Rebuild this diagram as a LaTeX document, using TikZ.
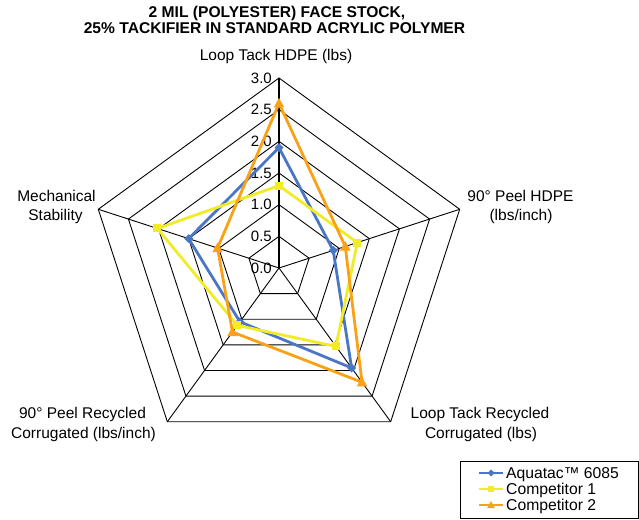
\documentclass[tikz,border=0pt]{standalone}
\usepackage{fontspec}
\setmainfont{Liberation Sans}
\definecolor{sblue}{RGB}{74,118,198}
\definecolor{syellow}{RGB}{242,236,40}
\definecolor{sorange}{RGB}{250,162,22}
\tikzset{
  gridline/.style={black, line width=0.9pt},
  axisline/.style={black, line width=1.8pt},
  series/.style={line width=2.8pt, line join=round},
  lbl/.style={font=\fontsize{15.5}{19}\selectfont, inner sep=0pt, anchor=base},
  ttl/.style={font=\fontsize{15.6}{16}\selectfont\bfseries, inner sep=0pt, anchor=base},
  ticklbl/.style={font=\fontsize{15}{18}\selectfont, inner sep=0pt, anchor=east},
  lgd/.style={font=\fontsize{15.7}{18}\selectfont, inner sep=0pt, anchor=base west},
}
\newcommand\mkdiamond[3]{\fill[#2] (#1) +(0,#3) -- +(#3,0) -- +(0,-#3) -- +(-#3,0) -- cycle;}
\newcommand\mksquare[3]{\fill[#2] (#1) +(-#3,-#3) rectangle +(#3,#3);}
\newcommand\mktriangle[3]{\fill[#2] (#1) +(0,#3) -- +(0.95*#3,-0.75*#3) -- +(-0.95*#3,-0.75*#3) -- cycle;}
\begin{document}
\begin{tikzpicture}[x=1pt,y=1pt]
\fill[white] (0,0) rectangle (639,519);
\useasboundingbox (0,0) rectangle (639,519);
\coordinate (C) at (279,251);
\def\U{63.333}
\begin{scope}[shift={(C)}]
  % rings
  \foreach \k in {1,...,6}{
    \pgfmathsetmacro\r{\k*31.6667}
    \draw[gridline] (90:\r) -- (18:\r) -- (-54:\r) -- (-126:\r) -- (162:\r) -- cycle;
  }
  \foreach \a in {18,-54,-126,162}{
    \draw[gridline] (0,0) -- (\a:190);
  }
  \draw[axisline] (0,0) -- (90:190);
  % tick labels
  \foreach \v [count=\i from 0] in {0.0,0.5,1.0,1.5,2.0,2.5,3.0}{
    \node[ticklbl] (tk\i) at (-7,{\i*31.6667}) {\v};
  }
  % series coordinates
  \coordinate (b1) at (90:{1.9*\U});
  \coordinate (b2) at (18:{0.9*\U});
  \coordinate (b3) at (-54:{1.95*\U});
  \coordinate (b4) at (-126:{1.05*\U});
  \coordinate (b5) at (162:{1.5*\U});
  \coordinate (y1) at (90:{1.3*\U});
  \coordinate (y2) at (18:{1.3*\U});
  \coordinate (y3) at (-54:{1.53*\U});
  \coordinate (y4) at (-126:{1.12*\U});
  \coordinate (y5) at (162:{2.02*\U});
  \coordinate (o1) at (90:{2.6*\U});
  \coordinate (o2) at (18:{1.1*\U});
  \coordinate (o3) at (-54:{2.23*\U});
  \coordinate (o4) at (-126:{1.25*\U});
  \coordinate (o5) at (162:{1.02*\U});
  \draw[series, sblue] (b1) -- (b2) -- (b3) -- (b4) -- (b5) -- cycle;
  \foreach \p in {b1,b2,b3,b4,b5}{\mkdiamond{\p}{sblue}{4.5}}
  \draw[series, syellow] (y1) -- (y2) -- (y3) -- (y4) -- (y5) -- cycle;
  \foreach \p in {y1,y2,y3,y4,y5}{\mksquare{\p}{syellow}{4}}
  \draw[series, sorange] (o1) -- (o2) -- (o3) -- (o4) -- (o5) -- cycle;
  \foreach \p in {o1,o2,o3,o4,o5}{\mktriangle{\p}{sorange}{5.5}}
\end{scope}
% title
\node[ttl] (ttlA) at (277,501) {2 MIL (POLYESTER) FACE STOCK,};
\node[ttl] (ttlB) at (274.5,485) {25\% TACKIFIER IN STANDARD ACRYLIC POLYMER};
% axis labels
\node[lbl] (axA) at (276,458) {Loop Tack HDPE (lbs)};
\node[lbl] (axB1) at (520.5,317) {90° Peel HDPE};
\node[lbl] (axB2) at (521,298) {(lbs/inch)};
\node[lbl] (axC1) at (480,100) {Loop Tack Recycled};
\node[lbl] (axC2) at (481,81) {Corrugated (lbs)};
\node[lbl] (axD1) at (82.5,100) {90° Peel Recycled};
\node[lbl] (axD2) at (83.5,81) {Corrugated (lbs/inch)};
\node[lbl] (axE1) at (56.5,317) {Mechanical};
\node[lbl] (axE2) at (55.5,298) {Stability};
% legend
\draw[black, line width=0.8pt] (460.5,1) rectangle (638,58);
\coordinate (l1a) at (479,46); \coordinate (l1b) at (503,46); \coordinate (l1m) at (491,46);
\coordinate (l2a) at (479,30); \coordinate (l2b) at (503,30); \coordinate (l2m) at (491,30);
\coordinate (l3a) at (479,14); \coordinate (l3b) at (503,14); \coordinate (l3m) at (491,14);
\draw[sblue, line width=2pt] (l1a) -- (l1b); \mkdiamond{l1m}{sblue}{3.5}
\draw[syellow, line width=2pt] (l2a) -- (l2b); \mksquare{l2m}{syellow}{3}
\draw[sorange, line width=2pt] (l3a) -- (l3b); \mktriangle{l3m}{sorange}{4}
\node[lgd] (lg1) at (506,40.5) {Aquatac™ 6085};
\node[lgd] (lg2) at (506,24.5) {Competitor 1};
\node[lgd] (lg3) at (506,8.5) {Competitor 2};
\end{tikzpicture}
\end{document}
